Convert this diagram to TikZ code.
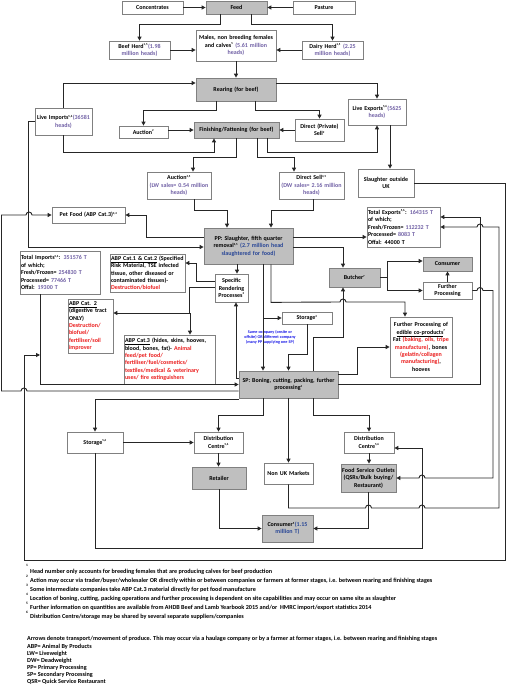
\documentclass[tikz,border=0pt]{standalone}
\usepackage{fontspec}
\setmainfont{Carlito}
\usetikzlibrary{arrows.meta}
\definecolor{cpurple}{RGB}{112,96,165}
\definecolor{cblue}{RGB}{40,70,150}
\definecolor{cred}{RGB}{235,30,30}
\definecolor{cnote}{RGB}{20,20,230}
\definecolor{gfill}{RGB}{191,191,191}
\newcommand\cpur{\color{cpurple}}
\newcommand\cblu{\color{cblue}}
\newcommand\cre{\color{cred}}
\newcommand\supn[1]{\textsuperscript{\fontsize{3}{3}\selectfont#1}}
\newcommand\mybx[7]{%
  \pgfmathsetmacro\myw{#4-#2}%
  \pgfmathsetmacro\myh{#5-#3}%
  \pgfmathsetmacro\mytw{#4-#2-2}%
  \node[#6,minimum width=\myw pt,minimum height=\myh pt,text width=\mytw pt] (#1) at ({(#2+#4)/2},{(#3+#5)/2}) {#7};}
\tikzset{
  box/.style={draw=black!50, line width=0.7pt, fill=white, font=\fontsize{6}{7.4}\selectfont\bfseries, align=center, inner xsep=1pt, inner ysep=0.3pt},
  gbox/.style={box, fill=gfill},
  lbox/.style={box, align=left},
  arr/.style={draw=black!85, line width=0.9pt, -{Triangle[length=4pt,width=4pt]}},
  foot/.style={font=\fontsize{6.15}{7}\selectfont\bfseries, anchor=base west, inner sep=0pt},
  fnum/.style={font=\fontsize{3.5}{3.5}\selectfont\bfseries, inner sep=0pt}
}
\begin{document}
\begin{tikzpicture}[x=1pt,y=-1pt]
\useasboundingbox (0,0) rectangle (506,685);
% nodes
\mybx{conc}{122}{1}{183}{14}{box}{Concentrates}
\mybx{feed}{206}{1}{267}{14}{gbox}{Feed}
\mybx{past}{293}{1}{355}{14}{box}{Pasture}
\mybx{beef}{109}{41}{170}{59}{box}{Beef Herd\supn{1,5}{\cpur(1.98}\\{\cpur million heads)}}
\mybx{males}{196}{30}{276}{61}{box}{Males, non breeding females\\ and calves\supn{5} {\cpur(5.61 million}\\{\cpur heads)}}
\mybx{dairy}{302}{41}{363}{59}{box}{Dairy Herd\supn{1,5} {\cpur(2.25}\\{\cpur million heads)}}
\mybx{rear}{196}{78}{276}{101}{gbox}{Rearing (for beef)}
\mybx{limp}{35}{108}{92}{135}{box}{Live Imports\supn{5,6}{\cpur(36581}\\{\cpur heads)}}
\mybx{lexp}{348}{99}{406}{125}{box}{Live Exports\supn{5,6}{\cpur(5625}\\{\cpur heads)}}
\mybx{auc1}{119}{126}{168}{138}{box}{Auction\supn{2}}
\mybx{fin}{194}{122}{279}{138}{gbox}{Finishing/Fattening (for beef)}
\mybx{dps}{295}{119}{344}{141}{box}{Direct (Private)\\ Sell\supn{2}}
\mybx{auc2}{147}{172}{211}{199}{box}{Auction\supn{4,5}\\{\cpur(LW sales= 0.54 million}\\{\cpur heads)}}
\mybx{dsell}{279}{172}{344}{199}{box}{Direct Sell\supn{4,5}\\{\cpur(DW sales= 2.16 million}\\{\cpur heads)}}
\mybx{sout}{358}{169}{414}{197}{box}{Slaughter outside\\ UK}
\mybx{pet}{52}{207}{125}{223}{box}{Pet Food (ABP Cat.3)\supn{3,4}}
\mybx{pp}{204}{228}{293}{264}{gbox}{PP: Slaughter, fifth quarter\\ removal\supn{4,5} {\cblu(2.7 million head}\\{\cblu slaughtered for food)}}
\mybx{texp}{367}{207}{440}{247}{lbox}{Total Exports\supn{5,6}: {\cpur 164315 T}\\ of which;\\ Fresh/Frozen= {\cpur 112232 T}\\ Processed= {\cpur 8083 T}\\ Offal: 44000 T}
\mybx{timp}{20}{251}{100}{294}{lbox}{Total Imports\supn{5,6}: {\cpur 351576 T}\\ of which;\\ Fresh/Frozen= {\cpur 254830 T}\\ Processed= {\cpur 77466 T}\\ Offal: {\cpur 19300 T}}
\mybx{abp12}{110}{254}{185}{292}{lbox}{\underline{ABP Cat.1 \& Cat.2} (Specified\\ Risk Material, TSE infected\\ tissue, other diseased or\\ contaminated tissues)-\\ {\cre Destruction/biofuel}}
\mybx{rend}{215}{274}{248}{302}{box}{Specific\\ Rendering\\ Processes\supn{3}}
\mybx{abp2}{68}{299}{113}{353}{lbox}{\underline{ABP Cat. 2}\\ (digestive tract\\ ONLY)\\ {\cre Destruction/\\ biofuel/\\ fertiliser/soil\\ improver}}
\mybx{abp3}{124}{335}{215}{384}{lbox}{\underline{ABP Cat.3} (hides, skins, hooves,\\ blood, bones, fat)- {\cre Animal}\\ {\cre feed/pet food/}\\ {\cre fertiliser/fuel/cosmetics/}\\ {\cre textiles/medical \& veterinary}\\ {\cre uses/ fire extinguishers}}
\mybx{butch}{329}{268}{380}{287}{gbox}{Butcher\supn{7}}
\mybx{cons1}{423}{257}{472}{271}{gbox}{Consumer}
\mybx{fproc}{423}{282}{472}{299}{box}{Further\\ Processing}
\mybx{stor4}{282}{312}{332}{324}{box}{Storage\supn{4}}
\mybx{fpe}{390}{317}{452}{377}{box}{Further Processing of\\ \underline{edible co-products}\supn{7}\\ Fat {\cre (baking, oils, tripe}\\ {\cre manufacture)}, bones\\ {\cre (gelatin/collagen}\\ {\cre manufacturing)},\\ hooves}
\mybx{sp}{239}{371}{338}{398}{gbox}{SP: Boning, cutting, packing, further\\ processing\supn{4}}
\mybx{stor56}{67}{432}{123}{453}{box}{Storage\supn{5,6}}
\mybx{dcl}{194}{432}{243}{453}{box}{Distribution\\ Centre\supn{5,6}}
\mybx{retail}{192}{467}{246}{489}{gbox}{Retailer}
\mybx{nonuk}{264}{463}{313}{484}{box}{Non UK Markets}
\mybx{dcr}{344}{432}{394}{453}{box}{Distribution\\ Centre\supn{5,6}}
\mybx{fso}{341}{464}{396}{492}{gbox}{Food Service Outlets\\ (QSRs/Bulk buying/\\ Restaurant)}
\mybx{cons2}{262}{515}{313}{542}{gbox}{Consumer\supn{5}{\cblu(1.15}\\{\cblu million T)}}
\node[font=\fontsize{4.2}{5.2}\selectfont\bfseries, text=cnote, align=center, inner sep=0pt] (note) at (270,337) {Same company (onsite or\\ offsite) OR different company\\ (many PP supplying one SP)};
% connectors
\draw[arr] (conc) -- (feed);
\draw[arr] (past) -- (feed);
\draw[arr] ([xshift=-16.5pt]feed.south) -- ++(0,10) -| (beef.north);
\draw[arr] ([xshift=14.5pt]feed.south) -- ++(0,10) -| (dairy.north);
\draw[arr] (beef.east) -- (beef.east -| males.west);
\draw[arr] (dairy.west) -- (dairy.west -| males.east);
\draw[arr] (males.south) -- (rear.north);
\draw[arr] (limp.north) |- ([yshift=6.5pt]rear.west);
\draw[arr] ([yshift=6.5pt]rear.east) -| (lexp.north);
\draw[arr] ([xshift=-20pt]rear.south) -- ++(0,9) -| (auc1.north);
\draw[arr] ([xshift=19pt]rear.south) -- ++(0,9) -| (dps.north);
\draw[arr] (auc1.east |- fin.west) -- (fin.west);
\draw[arr] (dps.west |- fin.east) -- (fin.east);
\draw[arr] (limp.south) -- ++(0,17) -| ([xshift=-22.5pt]fin.south);
\draw[arr] ([xshift=30.5pt]fin.south) -- ++(0,14) -| (lexp.south);
\draw[arr] ([xshift=13pt]lexp.south) -- ([xshift=13pt]lexp.south |- sout.north);
\draw[arr] (fin.south) -- ++(0,19) -| ([xshift=14pt]auc2.north);
\draw[arr] ([xshift=20.5pt]fin.south) -- ++(0,19) -| ([xshift=-17.5pt]dsell.north);
\draw[arr] ([xshift=15pt]auc2.south) -- ++(0,11) -| ([xshift=-21.5pt]pp.north);
\draw[arr] ([xshift=1.5pt]dsell.south) -- ++(0,11) -| ([xshift=22.5pt]pp.north);
\draw[arr] ([yshift=9pt]pp.west) -- ++(-57,0) |- (pet.east);
\draw[arr] (limp.west) -- ++(-6,0) |- ([yshift=-1pt]pp.west);
\draw[arr] ([yshift=9pt]pp.east) -- ([yshift=9pt]pp.east -| texp.west);
\draw[arr] ([yshift=-1pt]pp.east) -| ([xshift=-11.5pt]butch.north);
\draw[arr] ([xshift=-11.5pt]pp.south) -- ([xshift=5.5pt]rend.north);
\draw[arr] ([yshift=7pt]rend.west) -- ++(-18,0) |- ([yshift=10pt]abp12.east);
\draw[arr] ([yshift=1pt]rend.west) -- ++(-25,0) |- ([yshift=13pt]abp2.east);
\coordinate (br) at (190,313);
\draw[arr] (br) -- (br |- abp3.north);
\draw[arr] ([yshift=6.5pt]sp.west) -| ([xshift=4.5pt]rend.south);
\draw[arr] ([xshift=14.5pt]pp.south) -- ([xshift=14.5pt]pp.south |- sp.north);
\draw[arr] ([xshift=14.5pt]pp.south |- stor4.west) -- (stor4.west);
\draw[arr] (stor4.south) -- ++(0,30) -| (sp.north);
\draw[arr] ([xshift=24.5pt]sp.north) -- ++(0,-33) -| ([xshift=-11.5pt]butch.south);
\draw[arr] ([xshift=22.5pt]pp.south) -- ++(0,38) -- (340,302) arc[start angle=180,end angle=0,radius=3pt] -| ([xshift=-16pt]fpe.north);
\draw[arr] (butch.east) -- ++(7,0) |- ([yshift=3pt]cons1.west);
\draw[arr] (butch.east) -- ++(7,0) |- (fproc.west);
\draw[arr] (fproc.north) -- (cons1.south);
\draw[arr] (fproc.east) -- (477,290.5) arc[start angle=180,end angle=0,radius=3pt] -- (493,290.5) |- (425,478) arc[start angle=0,end angle=180,radius=3pt] -- (fso.east);
\draw[arr] (sp.east) -| ([xshift=40pt,yshift=10pt]texp.east) -- ([yshift=10pt]texp.east);
\draw[arr] (nonuk.south) |- (365.5,508) arc[start angle=180,end angle=0,radius=3pt] -- (419,508) arc[start angle=180,end angle=0,radius=3pt] -- (499,508) |- (483,227) arc[start angle=0,end angle=180,radius=3pt] -- (texp.east);
\coordinate (j1) at (40,355);
\draw[arr] (sout.east) -| (505,560) -| (24,355) -- (j1);
\draw[arr] ([xshift=-20pt]timp.south) |- (sp.west);
\draw[arr] ([yshift=-6.5pt]sp.west) -- (27,391) arc[start angle=0,end angle=180,radius=3pt] -- (1.5,391) -- (1.5,215) -- (26,215) arc[start angle=180,end angle=0,radius=3pt] -- (pet.west);
\draw[arr] ([yshift=-1pt]sp.south west) -| (stor56.north);
\draw[arr] (stor56.east) -- (dcl.west);
\draw[arr] ([xshift=-25.5pt]sp.south) -- ++(0,17) -| (dcl.north);
\draw[arr] (sp.south) -- (sp.south |- nonuk.north);
\draw[arr] ([xshift=24.5pt]sp.south) -- ++(0,17) -| (dcr.north);
\draw[arr] (dcl.south) -- (dcl.south |- retail.north);
\draw[arr] (stor56.south) |- (422,548) |- ([yshift=-5.5pt]dcr.east);
\draw[arr] (dcr.south) -- (dcr.south |- fso.north);
\draw[arr] (fso.south) |- (cons2.east);
\draw[arr] (retail.south) |- (cons2.west);
\draw[arr] ([yshift=10.5pt]sp.east) -- ++(19,0) |- (fpe.west);
% footnotes
\node[fnum] (f1) at (27,565) {1};
\node[fnum] (f2) at (27,576) {2};
\node[fnum] (f3) at (27,585) {3};
\node[fnum] (f4) at (27,594) {4};
\node[fnum] (f5) at (27,603) {5};
\node[fnum] (f6) at (27,612) {6};
\node[foot] (l1) at (30,573) {Head number only accounts for breeding females that are producing calves for beef production};
\node[foot] (l2) at (30,582) {Action may occur via trader/buyer/wholesaler OR directly within or between companies or farmers at former stages, i.e. between rearing and finishing stages};
\node[foot] (l3) at (30,591) {Some intermediate companies take ABP Cat.3 material directly for pet food manufacture};
\node[foot] (l4) at (30,600) {Location of boning, cutting, packing operations and further processing is dependent on site capabilities and may occur on same site as slaughter};
\node[foot] (l5) at (30,609) {Further information on quantities are available from AHDB Beef and Lamb Yearbook 2015 and/or\ \ HMRC import/export statistics 2014};
\node[foot] (l6) at (30,618) {Distribution Centre/storage may be shared by several separate suppliers/companies};
\node[foot] (g1) at (27,640) {Arrows denote transport/movement of produce. This may occur via a haulage company or by a farmer at former stages, i.e. between rearing and finishing stages};
\node[foot] (g2) at (27,648) {ABP= Animal By Products};
\node[foot] (g3) at (27,655) {LW= Liveweight};
\node[foot] (g4) at (27,662) {DW= Deadweight};
\node[foot] (g5) at (27,669) {PP= Primary Processing};
\node[foot] (g6) at (27,676) {SP= Secondary Processing};
\node[foot] (g7) at (27,683.5) {QSR= Quick Service Restaurant};
\end{tikzpicture}
\end{document}
